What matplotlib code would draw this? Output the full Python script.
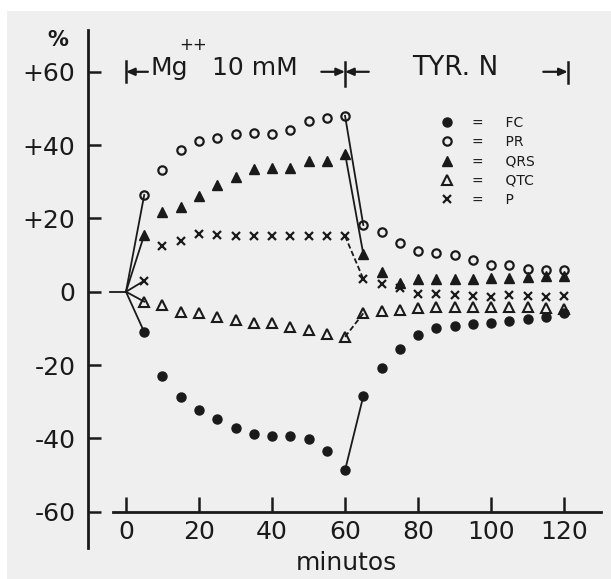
import matplotlib
matplotlib.use("Agg")
import matplotlib.pyplot as plt
from matplotlib.lines import Line2D
from matplotlib.patches import Rectangle

# ---- data ----
minutes = [0, 5, 10, 15, 20, 25, 30, 35, 40, 45, 50, 55, 60,
           65, 70, 75, 80, 85, 90, 95, 100, 105, 110, 115, 120]
fc = [0, -11, -23, -28.7, -32.3, -34.7, -37.3, -38.7, -39.3, -39.3, -40.3, -43.5, -48.7,
      -28.5, -20.9, -15.7, -11.8, -10, -9.4, -8.9, -8.5, -8, -7.5, -6.8, -5.8]
pr = [0, 26.4, 33.1, 38.6, 41, 41.9, 43.1, 43.2, 43.1, 44, 46.5, 47.4, 48,
      18.2, 16.4, 13.4, 11.1, 10.6, 10, 8.7, 7.3, 7.3, 6.2, 6, 5.8]
qrs = [0, 15.5, 21.8, 23, 26.1, 29, 31.4, 33.6, 33.8, 33.8, 35.6, 35.6, 37.7,
       10.3, 5.5, 2.5, 3.4, 3.4, 3.5, 3.6, 3.7, 3.7, 4, 4.3, 4.3]
p_wave = [0, 3, 12.5, 13.9, 15.8, 15.5, 15.3, 15.3, 15.3, 15.3, 15.3, 15.3, 15.2,
          3.5, 2, 1, -0.5, -0.7, -0.8, -1.2, -1.3, -1, -1.2, -1.3, -1.2]
qtc = [0, -2.7, -3.6, -5.5, -5.9, -6.8, -7.7, -8.5, -8.4, -9.6, -10.5, -11.5, -12.3,
       -5.9, -5.3, -4.9, -4.3, -4.1, -4.1, -4.1, -4.1, -4.2, -4.2, -4.4, -4.8]

series_names = ["FC", "PR", "QRS", "QTC", "P"]
yticks = [60, 40, 20, 0, -20, -40, -60]
ytick_labels = ["+60", "+40", "+20", "0", "-20", "-40", "-60"]
xticks = [0, 20, 40, 60, 80, 100, 120]
xtick_labels = ["0", "20", "40", "60", "80", "100", "120"]

INK = "#1a1a1a"
BG = "#efefef"

fig = plt.figure(figsize=(6.11, 5.79), dpi=100, facecolor=BG)
W, H = 611, 579
# white outer margins like the scanned page
fig.patches.append(Rectangle((0, 1 - 11 / H), 1, 11 / H, transform=fig.transFigure,
                             facecolor="white", edgecolor="none", zorder=-10))
fig.patches.append(Rectangle((0, 0), 7 / W, 1, transform=fig.transFigure,
                             facecolor="white", edgecolor="none", zorder=-10))

ax = fig.add_axes([88 / W, 31 / H, 517 / W, 518 / H])
ax.set_facecolor("none")
ax.set_xlim(-10.4, 131.2)
ax.set_ylim(-69.9, 71.4)

for s in ["top", "right"]:
    ax.spines[s].set_visible(False)
ax.spines["left"].set_linewidth(2.0)
ax.spines["left"].set_color(INK)
ax.spines["bottom"].set_position(("data", -60))
ax.spines["bottom"].set_bounds(-3.5, 130)
ax.spines["bottom"].set_linewidth(2.0)
ax.spines["bottom"].set_color(INK)

ax.set_yticks(yticks)
ax.set_yticklabels(ytick_labels)
ax.set_xticks(xticks)
ax.set_xticklabels(xtick_labels)
ax.tick_params(axis="y", direction="in", length=9, width=1.8, pad=9,
               labelsize=18, colors=INK)
ax.tick_params(axis="x", direction="in", length=10.5, width=1.8, pad=6,
               labelsize=18, colors=INK)
ax.set_xlabel("minutos", fontsize=18, color=INK, labelpad=5)

# short dash from axis to origin at 0
ax.plot([-4.4, 0], [0, 0], color=INK, lw=1.3)

series = [fc, pr, qrs, qtc, p_wave]
styles = [
    dict(marker="o", ms=6.5, mfc=INK, mec=INK, mew=1.0),
    dict(marker="o", ms=6, mfc="none", mec=INK, mew=1.6),
    dict(marker="^", ms=7.5, mfc=INK, mec=INK, mew=1.0),
    dict(marker="^", ms=7, mfc="none", mec=INK, mew=1.5),
    dict(marker="x", ms=6, mfc=INK, mec=INK, mew=1.6),
]
conn_ls = ["-", "-", "-", (0, (3, 1.5)), (0, (3, 1.5))]

handles = []
for vals, st, ls in zip(series, styles, conn_ls):
    # fan from origin to first reading
    ax.plot(minutes[0:2], vals[0:2], color=INK, lw=1.3, zorder=2)
    # connector at the change of perfusion (60 -> 65 min)
    ax.plot(minutes[12:14], vals[12:14], color=INK, lw=1.3, ls=ls, zorder=2)
    ax.plot(minutes[1:], vals[1:], ls="none", zorder=3, **st)
    handles.append(Line2D([], [], ls="none", **st))

leg = ax.legend(handles, ["=     " + n for n in series_names],
                loc="upper left", bbox_to_anchor=(440 / W, 1 - 116 / H),
                bbox_transform=fig.transFigure, frameon=False, fontsize=10,
                handlelength=1.0, handletextpad=1.3, labelspacing=0.38,
                borderpad=0, borderaxespad=0)
for t in leg.get_texts():
    t.set_color(INK)

# top annotation: Mg++ 10 mM  |  TYR. N
ytop = 60.0
arrow_kw = dict(arrowstyle="-|>,head_length=0.5,head_width=0.22", color=INK, lw=1.6,
                shrinkA=0, shrinkB=0)
ax.plot([0, 0], [57.3, 63.0], color=INK, lw=1.8)
ax.annotate("", xy=(0, ytop), xytext=(6.0, ytop), arrowprops=arrow_kw)
ax.text(6.6, 60.9, "Mg", fontsize=18, color=INK, ha="left", va="center")
ax.text(14.6, 67.4, "++", fontsize=12, color=INK, ha="left", va="center")
ax.text(23.5, 60.9, "10 mM", fontsize=18, color=INK, ha="left", va="center")
ax.plot([60, 60], [56.0, 62.6], color=INK, lw=1.8)
ax.annotate("", xy=(60, ytop), xytext=(53.5, ytop), arrowprops=arrow_kw)
ax.annotate("", xy=(60, ytop), xytext=(66.5, ytop), arrowprops=arrow_kw)
ax.text(90.3, 60.9, "TYR. N", fontsize=19, color=INK, ha="center", va="center")
ax.plot([121.0, 121.0], [57.0, 62.6], color=INK, lw=1.8)
ax.annotate("", xy=(121.0, ytop), xytext=(114.3, ytop), arrowprops=arrow_kw)

fig.text(58 / W, 1 - 40 / H, "%", fontsize=15, color=INK, ha="center", va="center",
         fontweight="bold")

fig.savefig("out.png", dpi=100, facecolor=BG)
